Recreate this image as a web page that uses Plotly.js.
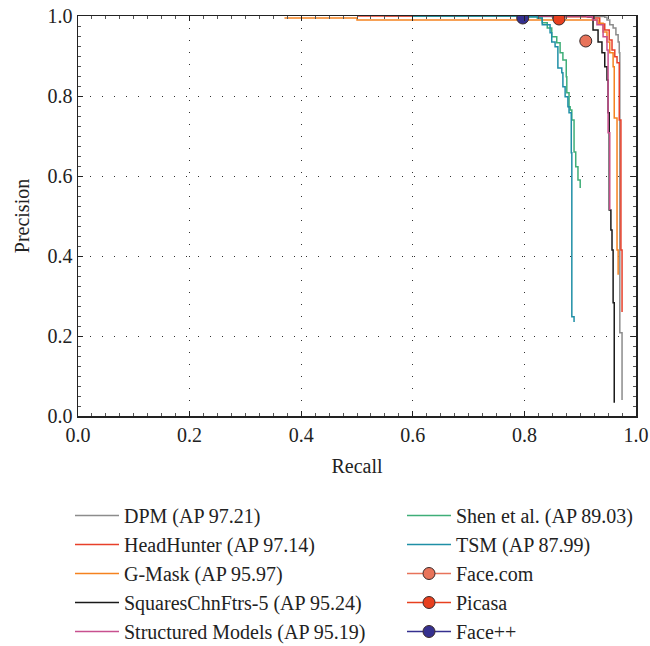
<!DOCTYPE html>
<html>
<head>
<meta charset="utf-8">
<script src="https://cdn.plot.ly/plotly-3.0.1.min.js"></script>
<style>html,body{margin:0;padding:0;background:#fff;}#chart{width:650px;height:646px;}</style>
</head>
<body>
<div id="chart"></div>
<script>
// Series names
const seriesNames = ["DPM (AP 97.21)", "HeadHunter (AP 97.14)", "G-Mask (AP 95.97)", "SquaresChnFtrs-5 (AP 95.24)", "Structured Models (AP 95.19)", "Shen et al. (AP 89.03)", "TSM (AP 87.99)"];
const pointNames = ["Face.com", "Picasa", "Face++"];

// Curves: recall / precision
const dpmRecall = [0.55, 0.80, 0.944, 0.948, 0.953, 0.959, 0.964, 0.968, 0.970, 0.971, 0.971, 0.975, 0.975];
const dpmPrecision = [1.0, 0.999, 0.997, 0.99, 0.978, 0.97, 0.953, 0.935, 0.908, 0.848, 0.208, 0.205, 0.04];

const hhRecall = [0.50, 0.85, 0.923, 0.935, 0.944, 0.952, 0.957, 0.962, 0.966, 0.970, 0.970, 0.973, 0.975];
const hhPrecision = [1.0, 0.998, 0.995, 0.98, 0.965, 0.94, 0.915, 0.898, 0.883, 0.833, 0.74, 0.415, 0.26];

const gmRecall = [0.37, 0.50, 0.50, 0.921, 0.932, 0.941, 0.948, 0.953, 0.959, 0.961, 0.961, 0.966, 0.968];
const gmPrecision = [0.995, 0.995, 0.99, 0.99, 0.982, 0.96, 0.935, 0.908, 0.873, 0.848, 0.745, 0.415, 0.353];

const sqRecall = [0.60, 0.914, 0.923, 0.932, 0.939, 0.944, 0.948, 0.950, 0.950, 0.952, 0.955, 0.957, 0.959, 0.961];
const sqPrecision = [1.0, 0.998, 0.965, 0.935, 0.908, 0.873, 0.84, 0.808, 0.758, 0.515, 0.465, 0.415, 0.283, 0.033];

const smRecall = [0.60, 0.912, 0.922, 0.930, 0.941, 0.948, 0.950, 0.953, 0.953];
const smPrecision = [1.0, 0.998, 0.99, 0.978, 0.948, 0.915, 0.708, 0.648, 0.515];

const shenRecall = [0.60, 0.80, 0.823, 0.832, 0.841, 0.849, 0.858, 0.864, 0.869, 0.875, 0.876, 0.880, 0.882, 0.885, 0.889, 0.889, 0.892, 0.896, 0.90];
const shenPrecision = [1.0, 0.998, 0.995, 0.983, 0.97, 0.948, 0.933, 0.908, 0.89, 0.848, 0.808, 0.773, 0.765, 0.74, 0.723, 0.66, 0.623, 0.59, 0.57];

const tsmRecall = [0.60, 0.80, 0.824, 0.832, 0.846, 0.849, 0.855, 0.860, 0.860, 0.867, 0.869, 0.873, 0.878, 0.880, 0.884, 0.885, 0.889];
const tsmPrecision = [1.0, 0.998, 0.995, 0.978, 0.958, 0.935, 0.923, 0.903, 0.87, 0.858, 0.823, 0.798, 0.773, 0.758, 0.658, 0.248, 0.235];

// Single operating points
const faceComRecall = [0.910], faceComPrecision = [0.9375];
const picasaRecall = [0.862], picasaPrecision = [0.9925];
const facePPRecall = [0.797], facePPPrecision = [0.995];

const tickVals = [0, 0.2, 0.4, 0.6, 0.8, 1.0];
const tickText = ["0.0", "0.2", "0.4", "0.6", "0.8", "1.0"];

const FONT = "Liberation Serif, Times New Roman, serif";
const FS = 20;

function curve(x, y, name, color, legend) {
  return {x: x, y: y, name: name, type: "scatter", mode: "lines",
    line: {color: color, width: 1.5, shape: "hv"}, legend: legend};
}
function pt(x, y, name, color) {
  return {x: x, y: y, name: name, type: "scatter", mode: "lines+markers",
    line: {color: color, width: 1.5},
    marker: {color: color, size: 12, line: {color: "#3a2a2a", width: 1}}, legend: "legend2"};
}

const traces = [
  curve(dpmRecall, dpmPrecision, seriesNames[0], "#8c8c8c", "legend"),
  curve(hhRecall, hhPrecision, seriesNames[1], "#e8402a", "legend"),
  curve(gmRecall, gmPrecision, seriesNames[2], "#f5821f", "legend"),
  curve(sqRecall, sqPrecision, seriesNames[3], "#1a1a1a", "legend"),
  curve(smRecall, smPrecision, seriesNames[4], "#c8508f", "legend"),
  curve(shenRecall, shenPrecision, seriesNames[5], "#3fae78", "legend2"),
  curve(tsmRecall, tsmPrecision, seriesNames[6], "#1f8fa6", "legend2"),
  pt(faceComRecall, faceComPrecision, pointNames[0], "#e8735a"),
  pt(picasaRecall, picasaPrecision, pointNames[1], "#e8401f"),
  pt(facePPRecall, facePPPrecision, pointNames[2], "#35308f")
];

function axis(extra) {
  return Object.assign({
    range: [0, 1], tickvals: tickVals.slice(), ticktext: tickText.slice(),
    showline: true, linecolor: "#222", linewidth: 1.5, mirror: "ticks",
    ticks: "inside", ticklen: 5, tickcolor: "#222",
    showgrid: true, gridcolor: "#333", gridwidth: 1, griddash: "1px,11px",
    zeroline: false, automargin: false, tickangle: 0,
    tickfont: {family: FONT, size: FS, color: "#222"},
    minor: {dtick: 0.025, ticks: "inside", ticklen: 3, tickcolor: "#555", showgrid: false}
  }, extra);
}

const layout = {
  width: 650, height: 646,
  margin: {l: 78, r: 14, t: 16, b: 230, autoexpand: false},
  paper_bgcolor: "#fff", plot_bgcolor: "#fff",
  font: {family: FONT, size: FS, color: "#222"},
  xaxis: axis({title: {text: "Recall", font: {family: FONT, size: FS}, standoff: 14}}),
  yaxis: axis({title: {text: "Precision", font: {family: FONT, size: FS}, standoff: 12}}),
  showlegend: true,
  legend: {x: (70 - 78) / 558, y: (416 - 496) / 400, xanchor: "left", yanchor: "top",
    itemwidth: 44, font: {family: FONT, size: FS, color: "#222"}, bgcolor: "rgba(0,0,0,0)", tracegroupgap: 0},
  legend2: {x: (402 - 78) / 558, y: (416 - 496) / 400, xanchor: "left", yanchor: "top",
    itemwidth: 44, font: {family: FONT, size: FS, color: "#222"}, bgcolor: "rgba(0,0,0,0)", tracegroupgap: 0}
};

Plotly.newPlot("chart", traces, layout, {displayModeBar: false, staticPlot: true});
</script>
</body>
</html>
